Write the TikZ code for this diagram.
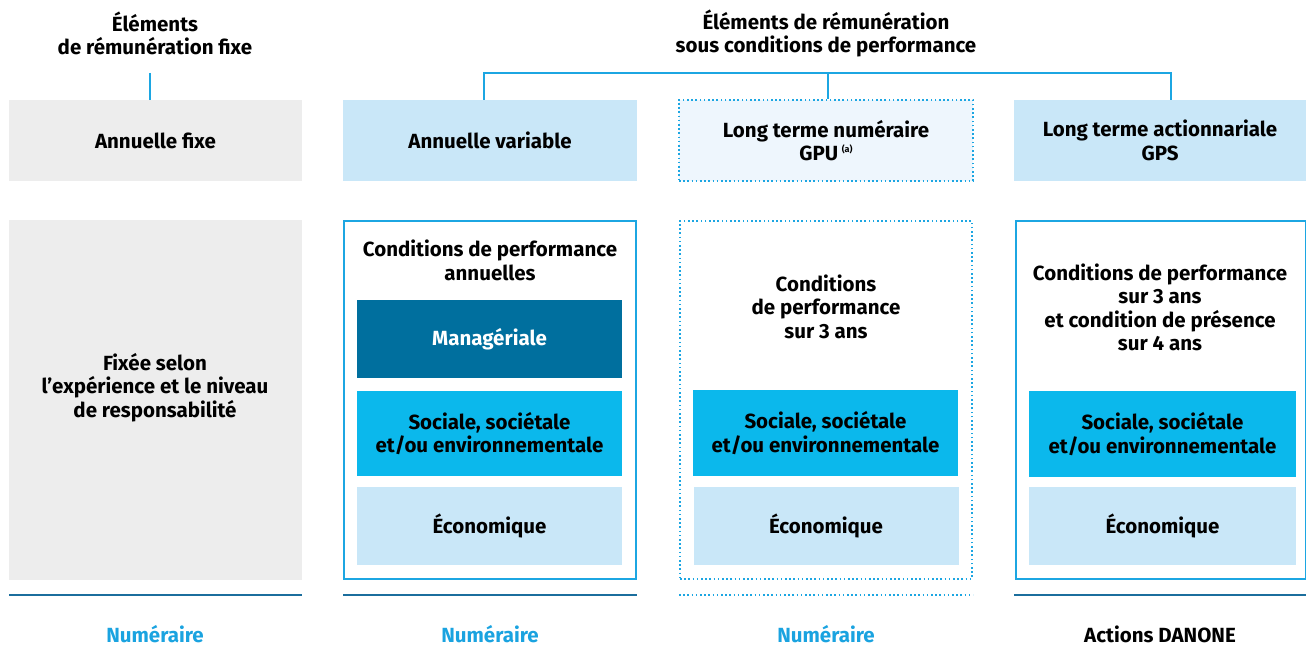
\documentclass[tikz,border=0pt]{standalone}
\usepackage{fontspec}
\setmainfont{Fira Sans}
\definecolor{greybg}{HTML}{EDEDED}
\definecolor{lightblue}{HTML}{C9E7F8}
\definecolor{paleblue}{HTML}{EEF6FD}
\definecolor{cyanbox}{HTML}{0BB8EC}
\definecolor{darkbox}{HTML}{006F9E}
\definecolor{borderblue}{HTML}{1CA6E2}
\definecolor{baseline}{HTML}{1B6E9D}
\definecolor{numblue}{HTML}{1AA3E0}
\tikzset{
  txt/.style={font=\bfseries\fontsize{20.5}{23.5}\selectfont, align=center, inner sep=0pt, text=black},
  topbox/.style={txt, minimum width=293pt, minimum height=81pt},
  subbox/.style={txt, minimum width=265pt},
  solidframe/.style={draw=borderblue, line width=1.8pt},
  dotframe/.style={draw=borderblue, line width=1.6pt, dash pattern=on 1.6pt off 2.6pt},
  connector/.style={draw=borderblue, line width=1.8pt},
  baseline/.style={draw=baseline, line width=2.2pt},
  dotbaseline/.style={draw=borderblue, line width=1.8pt, dash pattern=on 1.6pt off 2.6pt},
}
\begin{document}
\begin{tikzpicture}[x=1pt,y=-1pt]
\useasboundingbox (0,0) rectangle (1306,666);
% titles
\node[txt] (tfix) at (155,33.5) {Éléments\\de rémunération fixe};
\node[txt] (tperf) at (826,33.5) {Éléments de rémunération\\sous conditions de performance};
% top boxes
\node[topbox, fill=greybg] (af) at (155.5,140.5) {Annuelle fixe};
\node[topbox, fill=lightblue, minimum width=294pt] (av) at (490,140.5) {Annuelle variable};
\node[topbox, fill=paleblue, dotframe, minimum width=294pt] (gpu) at (826,140.5) {Long terme numéraire\\GPU\,\raisebox{0.75ex}{\fontsize{9}{9}\selectfont (a)}};
\node[topbox, fill=lightblue, minimum width=292pt] (gps) at (1160,140.5) {Long terme actionnariale\\GPS};
% connectors
\coordinate (cf) at (150,73);
\draw[connector] (cf) -- (cf |- af.north);
\coordinate (cL) at (484,73);
\coordinate (cM) at (828,73);
\coordinate (cR) at (1171,73);
\draw[connector] (cL |- av.north) -- (cL) -- (cR) -- (cR |- gps.north);
\draw[connector] (cM) -- (cM |- gpu.north);
% lower frames
\node[txt, fill=greybg, minimum width=293pt, minimum height=360pt] (fx) at (155.5,400) {};
\node[txt] (fxt) at (155,387.5) {Fixée selon\\l’expérience et le niveau\\de responsabilité};
\node[solidframe, minimum width=292pt, minimum height=358pt, inner sep=0pt] (f2) at (490,400) {};
\node[dotframe, minimum width=292pt, minimum height=358pt, inner sep=0pt] (f3) at (826,400) {};
\node[solidframe, minimum width=290pt, minimum height=358pt, inner sep=0pt] (f4) at (1161,400) {};
% headers inside frames
\node[txt] (h2) at (490,260.5) {Conditions de performance\\annuelles};
\node[txt] (h3) at (826,306.5) {Conditions\\de performance\\sur 3 ans};
\node[txt] (h4) at (1160,307.5) {Conditions de performance\\sur 3 ans\\et condition de présence\\sur 4 ans};
% sub boxes col 2
\node[subbox, fill=darkbox, text=white, minimum height=78pt] (m2) at (489.5,339) {Managériale};
\node[subbox, fill=cyanbox, minimum height=85pt] (s2) at (489.5,433.5) {Sociale, sociétale\\et/ou environnementale};
\node[subbox, fill=lightblue, minimum height=78pt] (e2) at (489.5,526) {Économique};
% col 3
\node[subbox, fill=cyanbox, minimum height=86pt] (s3) at (825.5,433) {Sociale, sociétale\\et/ou environnementale};
\node[subbox, fill=lightblue, minimum height=78pt] (e3) at (826,526) {Économique};
% col 4
\node[subbox, fill=cyanbox, minimum height=86pt, minimum width=267pt] (s4) at (1162.5,434) {Sociale, sociétale\\et/ou environnementale};
\node[subbox, fill=lightblue, minimum height=78pt, minimum width=267pt] (e4) at (1162.5,526) {Économique};
% baselines
\coordinate (b1a) at (9,595); \coordinate (b1b) at (302,595);
\coordinate (b2a) at (343,595); \coordinate (b2b) at (637,595);
\coordinate (b3a) at (679,595); \coordinate (b3b) at (973,595);
\coordinate (b4a) at (1014,595); \coordinate (b4b) at (1306,595);
\draw[baseline] (b1a) -- (b1b);
\draw[baseline] (b2a) -- (b2b);
\draw[dotbaseline] (b3a) -- (b3b);
\draw[baseline] (b4a) -- (b4b);
% bottom labels
\node[txt, text=numblue] (n1) at (155,634) {Numéraire};
\node[txt, text=numblue] (n2) at (490,634) {Numéraire};
\node[txt, text=numblue] (n3) at (826,634) {Numéraire};
\node[txt] (n4) at (1160,634) {Actions DANONE};
\end{tikzpicture}
\end{document}
